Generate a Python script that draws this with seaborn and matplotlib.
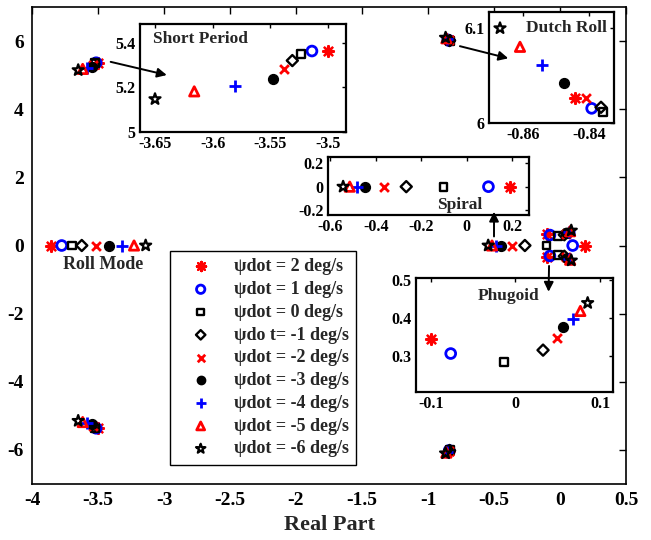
import numpy as np
import pandas as pd
import matplotlib
matplotlib.use("Agg")
import matplotlib.pyplot as plt
from matplotlib.patches import ConnectionPatch
from matplotlib.ticker import FuncFormatter
import seaborn as sns

# ---- eigenvalue data for each yaw-rate case ----
labels = ["ψdot = 2 deg/s", "ψdot = 1 deg/s", "ψdot = 0 deg/s", "ψdo t= -1 deg/s",
          "ψdot = -2 deg/s", "ψdot = -3 deg/s", "ψdot = -4 deg/s", "ψdot = -5 deg/s",
          "ψdot = -6 deg/s"]
roll_re = [-3.858, -3.775, -3.700, -3.623, -3.517, -3.417, -3.320, -3.227, -3.139]
sp_re = [-3.500, -3.514, -3.5235, -3.531, -3.5385, -3.548, -3.581, -3.616, -3.650]
sp_im = [5.364, 5.364, 5.352, 5.321, 5.284, 5.238, 5.208, 5.182, 5.147]
dr_re = [-0.8443, -0.8393, -0.8358, -0.8365, -0.8410, -0.8476, -0.8543, -0.8608, -0.8668]
dr_im = [6.0258, 6.0152, 6.0116, 6.0163, 6.0258, 6.0422, 6.0609, 6.0803, 6.1000]
spiral_re = [0.191, 0.096, -0.102, -0.266, -0.366, -0.446, -0.483, -0.515, -0.544]
ph_re = [-0.100, -0.0764, -0.0138, 0.0327, 0.0492, 0.0563, 0.0677, 0.0768, 0.0854]
ph_im = [0.344, 0.306, 0.284, 0.315, 0.347, 0.376, 0.396, 0.418, 0.439]

# ---- marker styling per case ----
RED, BLUE, BLK = "#ff0000", "#0000ff", "#000000"
styles = [
    dict(marker=(8, 2, 0), color=RED, open=False, lw=1.7),
    dict(marker="o", color=BLUE, open=True, lw=2.0),
    dict(marker="s", color=BLK, open=True, lw=1.7),
    dict(marker="D", color=BLK, open=True, lw=1.7),
    dict(marker="x", color=RED, open=False, lw=2.0),
    dict(marker="o", color=BLK, open=False, lw=1.0),
    dict(marker="+", color=BLUE, open=False, lw=2.0),
    dict(marker="^", color=RED, open=True, lw=2.0),
    dict(marker="*", color=BLK, open=True, lw=1.6),
]
sizes = [60, 50, 32, 32, 40, 50, 70, 45, 70]

sns.set_theme(style="white")
plt.rcParams["font.family"] = ["Liberation Serif", "DejaVu Serif"]
plt.rcParams["font.weight"] = "bold"
plt.rcParams["axes.labelweight"] = "bold"
plt.rcParams["axes.unicode_minus"] = False

W, H = 651, 540
fig = plt.figure(figsize=(W / 100, H / 100), dpi=100)
fig.patch.set_facecolor("white")


def px_rect(left, top, right, bottom):
    return [left / W, 1 - bottom / H, (right - left) / W, (bottom - top) / H]


def scatter_case(axis, i, xs, ys, label=None, scale=1.0):
    st = styles[i]
    kw = dict(marker=st["marker"], s=sizes[i] * scale, linewidth=st["lw"], zorder=3)
    if st["open"]:
        kw.update(color=st["color"], facecolors="none", edgecolors=st["color"])
    elif st["marker"] in ("o", "s", "D", "^", "*"):
        kw.update(color=st["color"], edgecolors=st["color"])
    else:
        kw.update(color=st["color"])
    sns.scatterplot(x=xs, y=ys, ax=axis, label=label, legend=False, **kw)


def style_axes(axis, size, lw, tick_len):
    for sp in axis.spines.values():
        sp.set_visible(True)
        sp.set_color("black")
        sp.set_linewidth(lw)
    axis.tick_params(direction="in", top=True, right=True, length=tick_len,
                     width=1, labelsize=size, pad=3, colors="black")
    axis.set_facecolor("white")
    fmt = FuncFormatter(lambda v, _: f"{v:g}")
    axis.xaxis.set_major_formatter(fmt)
    axis.yaxis.set_major_formatter(fmt)


# ---- main pole map ----
ax = fig.add_axes(px_rect(32, 7, 626, 484))
for i, lab in enumerate(labels):
    df = pd.DataFrame({
        "re": [roll_re[i], sp_re[i], sp_re[i], dr_re[i], dr_re[i], spiral_re[i], ph_re[i], ph_re[i]],
        "im": [0.0, sp_im[i], -sp_im[i], dr_im[i], -dr_im[i], 0.0, ph_im[i], -ph_im[i]],
    })
    scatter_case(ax, i, df["re"], df["im"], label=lab)

ax.set_xlim(-4, 0.5)
ax.set_ylim(-7, 7)
ax.set_xticks(np.arange(-4, 0.51, 0.5))
ax.set_yticks(np.arange(-6, 6.1, 2))
style_axes(ax, 14, 1.2, 5)
ax.tick_params(pad=6)
ax.set_xlabel("Real Part", fontsize=16, fontweight="bold", labelpad=4)
ax.set_ylabel("")
ax.text(-3.46, -0.57, "Roll Mode", fontsize=13, fontweight="bold", ha="center", va="center")

leg = ax.legend(loc="upper left", bbox_to_anchor=((170 - 32) / 594, (484 - 251) / 477),
                borderaxespad=0, fontsize=13, frameon=True, fancybox=False,
                framealpha=1, edgecolor="black", scatterpoints=1, handlelength=2.6,
                handletextpad=0.55, labelspacing=0.32, borderpad=0.4, markerscale=0.85)
leg.get_frame().set_linewidth(1.0)
for t in leg.get_texts():
    t.set_fontweight("bold")

# ---- insets for each mode ----
ax_sp = fig.add_axes(px_rect(140, 24, 346, 131.7))
ax_dr = fig.add_axes(px_rect(489, 11.7, 614, 122.7))
ax_spi = fig.add_axes(px_rect(327.7, 156.7, 529.3, 215))
ax_ph = fig.add_axes(px_rect(416, 278.3, 612.7, 392.3))

for i in range(len(labels)):
    scatter_case(ax_sp, i, [sp_re[i]], [sp_im[i]])
    scatter_case(ax_dr, i, [dr_re[i]], [dr_im[i]])
    scatter_case(ax_spi, i, [spiral_re[i]], [0.0])
    scatter_case(ax_ph, i, [ph_re[i]], [ph_im[i]])

ax_sp.set_xlim(-3.663, -3.4845)
ax_sp.set_ylim(5.0, 5.486)
ax_sp.set_xticks([-3.65, -3.6, -3.55, -3.5])
ax_sp.set_yticks([5.0, 5.2, 5.4])

ax_dr.set_xlim(-0.8701, -0.8326)
ax_dr.set_ylim(6.0, 6.1175)
ax_dr.set_xticks([-0.86, -0.84])
ax_dr.set_yticks([6.0, 6.1])

ax_spi.set_xlim(-0.612, 0.276)
ax_spi.set_ylim(-0.243, 0.257)
ax_spi.set_xticks([-0.6, -0.4, -0.2, 0, 0.2])
ax_spi.set_yticks([-0.2, 0, 0.2])

ax_ph.set_xlim(-0.1174, 0.115)
ax_ph.set_ylim(0.204, 0.504)
ax_ph.set_xticks([-0.1, 0, 0.1])
ax_ph.set_yticks([0.3, 0.4, 0.5])

for a in (ax_sp, ax_dr, ax_spi, ax_ph):
    style_axes(a, 11.5, 1.6, 3)
    a.set_xlabel("")
    a.set_ylabel("")

ax_sp.text(0.062, 0.858, "Short Period", transform=ax_sp.transAxes, fontsize=12.5,
           fontweight="bold", ha="left", va="center")
ax_dr.text(0.94, 0.85, "Dutch Roll", transform=ax_dr.transAxes, fontsize=12.5,
           fontweight="bold", ha="right", va="center")
ax_spi.text(0.656, 0.17, "Spiral", transform=ax_spi.transAxes, fontsize=12.5,
            fontweight="bold", ha="center", va="center")
ax_ph.text(0.469, 0.847, "Phugoid", transform=ax_ph.transAxes, fontsize=12.5,
           fontweight="bold", ha="center", va="center")

# ---- arrows from the pole clusters to their zoomed views ----
arrows = [
    ((-3.404, 5.39), ax_sp, (0.13, 0.526)),
    ((-0.758, 5.85), ax_dr, (0.154, 0.58)),
    ((-0.50, 0.265), ax_spi, (0.825, 0.057)),
    ((-0.083, -0.60), ax_ph, (0.674, 0.882)),
]
for start, inset, end in arrows:
    con = ConnectionPatch(xyA=start, coordsA=ax.transData, xyB=end, coordsB=inset.transAxes,
                          arrowstyle="-|>", mutation_scale=14, lw=1.4, color="black",
                          shrinkA=0, shrinkB=0)
    con.set_zorder(20)
    fig.add_artist(con)

fig.savefig("out.png", dpi=100)
